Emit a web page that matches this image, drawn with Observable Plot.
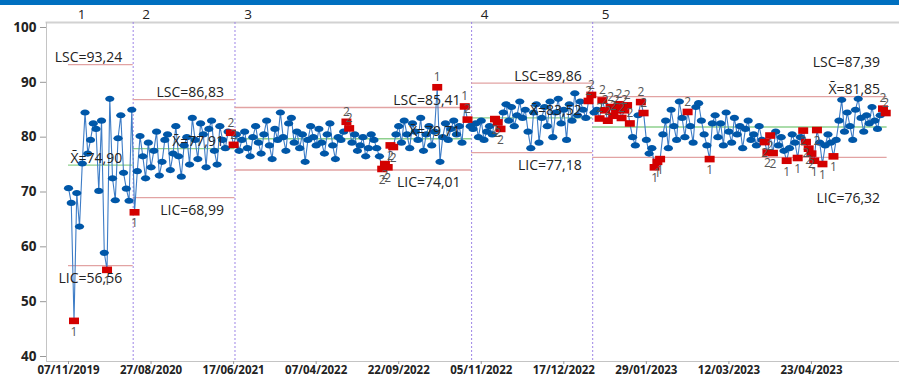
<!DOCTYPE html>
<html><head><meta charset="utf-8">
<script src="https://cdn.jsdelivr.net/npm/d3@7"></script>
<script src="https://cdn.jsdelivr.net/npm/@observablehq/plot@0.6"></script>
<style>
body{margin:0;background:#fff;}
#bar{height:5px;background:#0070C0;width:899px;}
#chart svg{display:block;}
#chart [aria-label="x-axis tick label"] text{font-weight:bold;font-size:11.5px;fill:#222;}
#chart [aria-label="y-axis tick label"] text{font-weight:bold;font-size:13.5px;fill:#222;}
</style></head><body>
<div id="bar"></div><div id="chart"></div>
<script>
// ---- data ----
const stage1 = [70.7, 68.0, 46.5, 69.8, 63.7, 75.2, 84.5, 77.0, 79.5, 82.5, 81.5, 70.2, 83.0, 58.9, 55.8, 87.0, 72.5, 68.5, 79.8, 84.0, 73.5, 70.6, 68.4, 85.0];
const stage2 = [66.3, 73.8, 80.2, 76.5, 72.5, 79.0, 74.5, 77.5, 81.0, 73.0, 75.5, 79.5, 80.5, 74.0, 77.0, 82.0, 76.5, 72.8, 78.5, 80.0, 75.0, 83.5, 79.5, 76.0, 82.5, 80.5, 74.5, 81.5, 83.0, 77.5, 75.0, 82.0, 79.5, 78.0, 81.0, 80.8, 78.6];
const stage3 = [80.5, 77.5, 79.5, 81.0, 78.0, 76.5, 80.0, 82.0, 79.0, 77.0,
  80.5, 83.0, 78.5, 76.0, 81.5, 79.5, 84.5, 80.0, 77.5, 82.5,
  83.5, 79.0, 81.0, 78.0, 80.5, 75.5, 79.5, 82.0, 80.0, 78.5,
  81.5, 79.0, 77.0, 80.5, 82.5, 78.5, 76.0, 80.0, 79.5, 81.0,
  82.8, 81.6, 79.0, 80.5, 77.5, 78.5, 80.0, 76.5, 78.0, 80.5,
  79.5, 78.0, 76.5, 74.2, 75.1, 74.5, 78.5, 78.2, 80.5, 82.0,
  79.0, 83.0, 80.5, 78.0, 82.5, 81.0, 79.5, 83.5, 77.5, 80.5,
  82.0, 78.5, 81.0, 89.1, 75.5, 80.0, 82.5, 79.5, 81.5, 83.0,
  80.5, 82.0, 79.0, 85.6, 83.2, 82.0];
const stage4 = [81.5, 82.5, 80.0, 83.0, 79.5, 81.0, 82.0, 80.5, 83.3, 82.7,
  81.5, 84.5, 86.0, 83.0, 85.5, 82.0, 84.0, 86.5, 83.5, 85.0,
  81.0, 78.0, 84.5, 86.0, 79.0, 83.5, 85.5, 82.0, 86.5, 80.0,
  84.5, 87.0, 82.5, 85.0, 79.5, 86.0, 83.0, 88.0, 84.0, 86.5,
  85.0, 83.5, 86.6, 87.7];
const stage5 = [84.5, 85.0, 83.4, 86.7, 84.9, 83.0, 85.5, 83.9, 84.9, 86.0,
  83.5, 84.9, 85.8, 82.5, 80.0, 78.5, 84.0, 86.4, 84.4, 79.5,
  77.0, 78.0, 74.5, 75.5, 76.0, 80.5, 83.0, 78.0, 85.0, 82.0,
  79.5, 86.5, 83.5, 80.0, 84.6, 82.0, 79.0, 85.5, 86.2, 83.0,
  80.5, 78.5, 76.0, 82.5, 84.0, 80.0, 82.5, 78.5, 84.5, 81.0,
  79.0, 83.5, 80.5, 82.0, 78.0, 81.5, 83.0, 79.5, 80.5, 78.5,
  82.0, 79.5, 79.1, 77.2, 80.3, 77.1, 81.0, 78.5, 80.0, 77.5,
  75.7, 78.0, 80.5, 79.0, 76.2, 80.0, 81.2, 79.1, 77.9, 77.0,
  75.7, 81.3, 79.0, 75.1, 78.5, 80.5, 79.0, 76.5, 79.5, 83.0,
  86.8, 81.0, 84.5, 82.0, 79.5, 85.0, 87.0, 83.5, 81.0, 84.0,
  82.5, 85.5, 83.0, 81.5, 84.0, 85.2, 84.4];
// failed tests: [observation index, test number]
const failed = [[2,1],[14,1],[24,1],[59,2],[60,2],
  [101,2],[102,2],[114,2],[115,2],[116,2],[117,2],[118,2],[134,1],[144,1],[145,2],
  [155,2],[156,2],[157,2],[189,2],[190,2],
  [193,2],[194,2],[195,2],[196,2],[197,2],[198,2],[199,2],[200,2],[201,2],[202,2],[203,2],[204,2],
  [208,2],[209,2],[213,1],[214,1],[215,1],[225,2],[233,1],
  [253,2],[254,2],[255,2],[256,2],[261,1],[265,1],[267,2],[268,2],[269,2],[270,2],[271,1],[272,2],[274,1],[278,1],
  [296,2],[297,2]];
const stageNames = ["1","2","3","4","5"];
const lsc = [93.24, 86.83, 85.41, 89.86, 87.39];
const xbar = [74.90, 77.91, 79.71, 83.52, 81.85];
const lic = [56.56, 68.99, 74.01, 77.18, 76.32];
const tickIndex = [0, 30, 60, 90, 120, 150, 180, 210, 240, 270];
const tickLabels = ["07/11/2019","27/08/2020","17/06/2021","07/04/2022","22/09/2022","05/11/2022","17/12/2022","29/01/2023","12/03/2023","23/04/2023"];
const yTicks = [40, 50, 60, 70, 80, 90, 100];

// ---- build table ----
const stages = [stage1, stage2, stage3, stage4, stage5];
const rows = []; const starts = []; const ends = [];
let n = 0;
stages.forEach((arr, k) => { starts.push(n); arr.forEach(v => rows.push({i: n++, v, stage: k})); ends.push(n - 1); });
const failMap = new Map(failed);
const reds = rows.filter(d => failMap.has(d.i)).map(d => ({...d, t: String(failMap.get(d.i)), below: d.v < xbar[d.stage]}));
const fmt = v => v.toFixed(2).replace(".", ",");
const limits = [];
stages.forEach((a, k) => {
  const x1 = k === 0 ? starts[k] : starts[k] - 0.5, x2 = ends[k] + 0.5;
  limits.push({x1, x2, y: lsc[k], kind: "lim"});
  limits.push({x1, x2, y: lic[k], kind: "lim"});
  limits.push({x1, x2, y: xbar[k], kind: "mean"});
});
const bounds = starts.slice(1).map(s => s - 0.5);

const ellipse = {draw(ctx) { const rx = 4.6, ry = 3.1, k = 0.5523;
  ctx.moveTo(rx, 0);
  ctx.bezierCurveTo(rx, ry*k, rx*k, ry, 0, ry);
  ctx.bezierCurveTo(-rx*k, ry, -rx, ry*k, -rx, 0);
  ctx.bezierCurveTo(-rx, -ry*k, -rx*k, -ry, 0, -ry);
  ctx.bezierCurveTo(rx*k, -ry, rx, -ry*k, rx, 0);
  ctx.closePath(); }};
const box = {draw(ctx) { ctx.rect(-5, -3.3, 10, 6.6); }};

const labelMarks = [];
const font = {fontFamily: "Open Sans", fontSize: 14, fill: "#222"};
stages.forEach((a, k) => {
  const last = k === 4;
  const xe = ends[k] + 0.5;
  labelMarks.push(Plot.text([{x: xe, y: lsc[k]}], {x: "x", y: "y", text: () => "LSC=" + fmt(lsc[k]), textAnchor: "end", dx: last ? -7 : -11, dy: last ? -34 : -7, ...font}));
  labelMarks.push(Plot.text([{x: xe, y: xbar[k]}], {x: "x", y: "y", text: () => "X\u0304=" + fmt(xbar[k]), textAnchor: "end", dx: last ? -7 : -11, dy: last ? -38 : -7, ...font}));
  labelMarks.push(Plot.text([{x: xe, y: lic[k]}], {x: "x", y: "y", text: () => "LIC=" + fmt(lic[k]), textAnchor: "end", dx: last ? -7 : -11, dy: last ? 41 : 13, ...font}));
});

const chart = Plot.plot({
  width: 899, height: 371,
  marginLeft: 46, marginRight: 0, marginTop: 17, marginBottom: 15,
  style: {fontFamily: "Open Sans", background: "#fff"},
  x: {domain: [-8, 302]},
  y: {domain: [39.09, 100.91]},
  marks: [
    Plot.frame({anchor: "top", stroke: "#d2d2d2", strokeWidth: 2}),
    Plot.frame({anchor: "left", stroke: "#c4c4c4"}),
    Plot.frame({anchor: "bottom", stroke: "#c4c4c4"}),
    Plot.axisY({ticks: yTicks, tickSize: 6, tickPadding: 4, stroke: "#999"}),
    Plot.axisX({ticks: tickIndex, tickFormat: d => tickLabels[tickIndex.indexOf(d)], tickSize: 3, tickPadding: 1, stroke: "#999"}),
    Plot.ruleX(bounds, {x: d => d, stroke: "#9d84e6", strokeDasharray: "2,2", strokeWidth: 1}),
    Plot.text(starts, {x: d => (d === 0 ? d : d - 0.5), frameAnchor: "top", lineAnchor: "middle", text: (d, j) => stageNames[j], dx: 13, dy: -8, fontSize: 13.5, fill: "#222"}),
    Plot.ruleY(limits.filter(d => d.kind === "lim"), {x1: "x1", x2: "x2", y: "y", stroke: "#e2a3a3", strokeWidth: 1.3}),
    Plot.ruleY(limits.filter(d => d.kind === "mean"), {x1: "x1", x2: "x2", y: "y", stroke: "#8ed08e", strokeWidth: 1.3}),
    Plot.line(rows, {x: "i", y: "v", stroke: "#3d7cc6", strokeWidth: 1.1}),
    Plot.dot(rows.filter(d => !failMap.has(d.i)), {x: "i", y: "v", symbol: ellipse, fill: "#0057a8", stroke: "none"}),
    Plot.dot(reds, {x: "i", y: "v", symbol: box, fill: "#d30000", stroke: "none"}),
    Plot.text(reds.filter(d => d.below), {x: "i", y: "v", text: "t", dy: 11, fontSize: 12, fill: "#555"}),
    Plot.text(reds.filter(d => !d.below), {x: "i", y: "v", text: "t", dy: -10, fontSize: 12, fill: "#555"}),
    ...labelMarks
  ]
});
document.getElementById("chart").append(chart);
</script>
</body></html>
